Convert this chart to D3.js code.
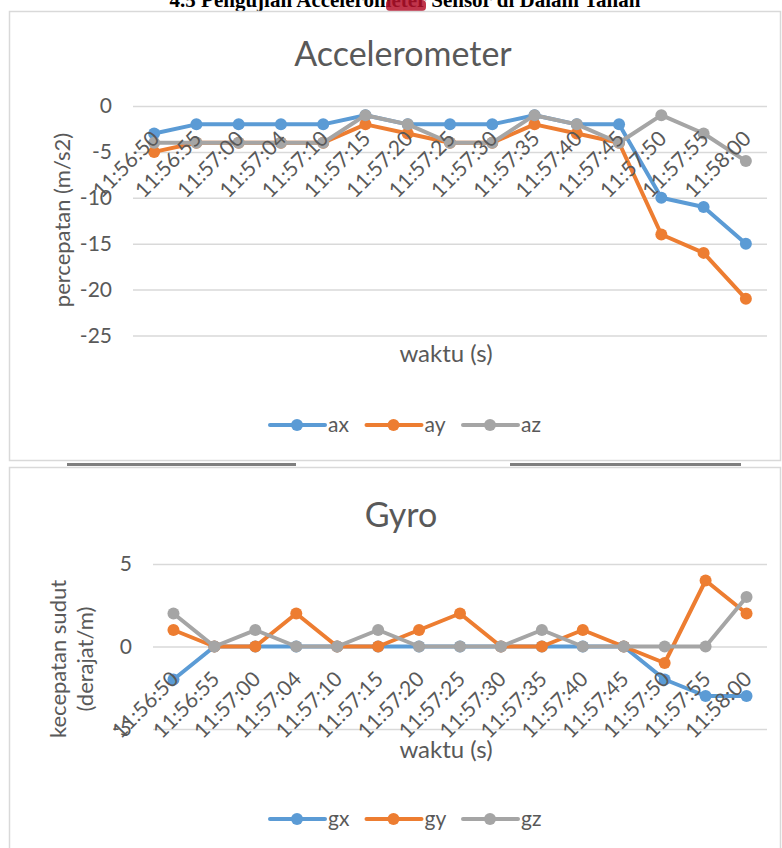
<!DOCTYPE html>
<html>
<head>
<meta charset="utf-8">
<script src="https://cdn.jsdelivr.net/npm/d3@7"></script>
<style>
  body { margin: 0; background: #fff; }
  svg { display: block; font-family: Lato, "Open Sans", sans-serif; }
</style>
</head>
<body>
<svg width="782" height="848"></svg>
<script>
const times = ["11:56:50", "11:56:55", "11:57:00", "11:57:04", "11:57:10", "11:57:15", "11:57:20",
  "11:57:25", "11:57:30", "11:57:35", "11:57:40", "11:57:45", "11:57:50", "11:57:55", "11:58:00"];

const ax = [-3, -2, -2, -2, -2, -1, -2, -2, -2, -1, -2, -2, -10, -11, -15];
const ay = [-5, -4, -4, -4, -4, -2, -3, -4, -4, -2, -3, -4, -14, -16, -21];
const az = [-4, -4, -4, -4, -4, -1, -2, -4, -4, -1, -2, -4, -1, -3, -6];

const gx = [-2, 0, 0, 0, 0, 0, 0, 0, 0, 0, 0, 0, -2, -3, -3];
const gy = [1, 0, 0, 2, 0, 0, 1, 2, 0, 0, 1, 0, -1, 4, 2];
const gz = [2, 0, 1, 0, 0, 1, 0, 0, 0, 1, 0, 0, 0, 0, 3];

const accTicks = [0, -5, -10, -15, -20, -25];
const gyroTicks = [5, 0, -5];

const colors = ["#5B9BD5", "#ED7D31", "#A5A5A5"];
const textColor = "#595959";
const gridColor = "#D9D9D9";

const svg = d3.select("svg");

// heading of the page, cut off at the top
svg.append("text")
  .attr("x", 405)
  .attr("y", 7)
  .attr("text-anchor", "middle")
  .style("font-family", "'Liberation Serif', serif")
  .style("font-weight", "bold")
  .style("font-size", "21px")
  .text("4.5 Pengujian Accelerometer Sensor di Dalam Tanah");
svg.append("rect")
  .attr("x", 386).attr("y", 0).attr("width", 40).attr("height", 11)
  .attr("rx", 4)
  .attr("fill", "#b5122b").attr("opacity", 0.85);

// chart frames
svg.append("rect")
  .attr("x", 9.5).attr("y", 11.5).attr("width", 771).attr("height", 449)
  .attr("fill", "#fff").attr("stroke", gridColor).attr("stroke-width", 1.5);
svg.append("rect")
  .attr("x", 9.5).attr("y", 467.5).attr("width", 771).attr("height", 400)
  .attr("fill", "#fff").attr("stroke", gridColor).attr("stroke-width", 1.5);

// dark bars between the two charts
svg.append("rect").attr("x", 67).attr("y", 463).attr("width", 229).attr("height", 3).attr("fill", "#7f7f7f");
svg.append("rect").attr("x", 510).attr("y", 463).attr("width", 231).attr("height", 3).attr("fill", "#7f7f7f");

function drawChart(cfg) {
  const x = d3.scalePoint()
    .domain(times)
    .range([cfg.left, cfg.right])
    .padding(0.5);

  const y = d3.scaleLinear()
    .domain(cfg.domain)
    .range([cfg.bottom, cfg.top]);

  svg.append("text")
    .attr("x", cfg.titleX)
    .attr("y", cfg.titleY)
    .attr("text-anchor", "middle")
    .attr("fill", textColor)
    .style("font-size", "34px")
    .text(cfg.title);

  const yAxis = svg.append("g")
    .attr("transform", `translate(${cfg.left},0)`)
    .call(d3.axisLeft(y)
      .tickValues(cfg.ticks)
      .tickFormat((d) => String(d))
      .tickSize(-(cfg.right - cfg.left))
      .tickPadding(21));
  yAxis.select(".domain").remove();
  yAxis.selectAll("line").attr("stroke", gridColor).attr("stroke-width", 1.5);
  yAxis.selectAll("text").attr("fill", textColor).style("font-size", "21px").style("font-family", "Lato, sans-serif");

  // y axis title, one or two lines
  const yt = svg.append("text")
    .attr("transform", `translate(${cfg.yTitleX},${cfg.yTitleY}) rotate(-90)`)
    .attr("text-anchor", "middle")
    .attr("fill", textColor)
    .style("font-size", "22px");
  cfg.yTitle.forEach((line, i) => {
    yt.append("tspan").attr("x", 0).attr("dy", i === 0 ? 0 : 27).text(line);
  });

  const lineGen = (vals) => d3.line()
    .x((d, i) => x(times[i]))
    .y((d) => y(d))(vals);

  cfg.series.forEach((s, k) => {
    svg.append("path")
      .attr("d", lineGen(s.values))
      .attr("fill", "none")
      .attr("stroke", colors[k])
      .attr("stroke-width", 4)
      .attr("stroke-linejoin", "round");
    svg.append("g")
      .selectAll("circle")
      .data(s.values)
      .enter()
      .append("circle")
      .attr("cx", (d, i) => x(times[i]))
      .attr("cy", (d) => y(d))
      .attr("r", 6)
      .attr("fill", colors[k]);
  });

  // category labels hang from the zero line
  const xAxis = svg.append("g")
    .attr("transform", `translate(0,${y(0)})`)
    .call(d3.axisBottom(x).tickSize(0));
  xAxis.select(".domain").remove();
  xAxis.selectAll("text")
    .attr("x", 0)
    .attr("y", 0)
    .attr("dy", 0)
    .attr("transform", "translate(6,34) rotate(-45)")
    .attr("text-anchor", "end")
    .attr("fill", textColor)
    .style("font-size", "21px")
    .style("font-family", "Lato, sans-serif");

  svg.append("text")
    .attr("x", cfg.xTitleX)
    .attr("y", cfg.xTitleY)
    .attr("text-anchor", "middle")
    .attr("fill", textColor)
    .style("font-size", "24px")
    .text("waktu (s)");

  // legend
  const legend = svg.append("g").attr("transform", `translate(270,${cfg.legendY})`);
  cfg.series.forEach((s, k) => {
    const item = legend.append("g").attr("transform", `translate(${k * 96.5},0)`);
    item.append("line")
      .attr("x1", 0).attr("x2", 55)
      .attr("stroke", colors[k]).attr("stroke-width", 4).attr("stroke-linecap", "round");
    item.append("circle").attr("cx", 27).attr("r", 6).attr("fill", colors[k]);
    item.append("text")
      .attr("x", 58)
      .attr("dy", "0.35em")
      .attr("fill", textColor)
      .style("font-size", "21px")
      .text(s.name);
  });
}

drawChart({
  title: "Accelerometer",
  titleX: 403, titleY: 66,
  left: 133, right: 767, top: 106, bottom: 335.5,
  domain: [-25, 0],
  ticks: accTicks,
  yTitle: ["percepatan (m/s2)"],
  yTitleX: 70, yTitleY: 220,
  xTitleX: 446, xTitleY: 362,
  legendY: 425,
  series: [{ name: "ax", values: ax }, { name: "ay", values: ay }, { name: "az", values: az }]
});

drawChart({
  title: "Gyro",
  titleX: 401, titleY: 527,
  left: 153, right: 767, top: 564, bottom: 729,
  domain: [-5, 5],
  ticks: gyroTicks,
  yTitle: ["kecepatan sudut", "(derajat/m)"],
  yTitleX: 66, yTitleY: 659,
  xTitleX: 446, xTitleY: 758,
  legendY: 819,
  series: [{ name: "gx", values: gx }, { name: "gy", values: gy }, { name: "gz", values: gz }]
});
</script>
</body>
</html>
